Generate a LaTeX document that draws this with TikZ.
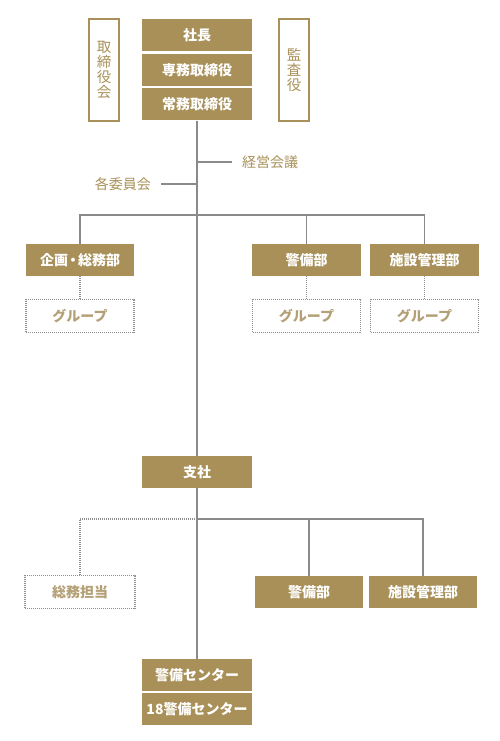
\documentclass[tikz,border=0pt]{standalone}
\usepackage{fontspec}
\setmainfont{Noto Sans CJK JP}
\definecolor{gold}{HTML}{A89058}
\definecolor{goldtxt}{HTML}{A89058}
\definecolor{grouptxt}{HTML}{B3A077}
\definecolor{linegray}{HTML}{8A8A8A}
\definecolor{dotgray}{HTML}{8F8F8F}
\tikzset{
  fillbox/.style={fill=gold, text=white, font=\fontsize{14}{16}\selectfont\bfseries, minimum width=110pt, minimum height=32pt, inner sep=0pt},
  outbox/.style={draw=gold, line width=2pt, text=goldtxt, font=\fontsize{14.5}{15}\selectfont, minimum width=30pt, minimum height=102pt, inner sep=0pt, align=center},
  dotbox/.style={draw=dotgray, line width=1.2pt, dash pattern=on 1pt off 1pt, text=grouptxt, font=\fontsize{14}{16}\selectfont\bfseries, minimum width=108pt, minimum height=33pt, inner sep=0pt},
  conn/.style={draw=linegray, line width=1.4pt},
  dconn/.style={draw=dotgray, line width=1.2pt, dash pattern=on 1pt off 1pt},
  lbl/.style={text=goldtxt, font=\fontsize{14}{16}\selectfont, inner sep=0pt}
}
\begin{document}
\begin{tikzpicture}[x=1pt,y=-1pt]
\useasboundingbox (0,0) rectangle (500,741);
% top stack
\node[fillbox] (shacho) at (197,35) {社長};
\node[fillbox] (senmu) at (197,70) {専務取締役};
\node[fillbox] (joumu) at (197,104.5) {常務取締役};
\node[outbox] (torishimari) at (104,70) {取\\締\\役\\会};
\node[outbox] (kansa) at (294,70) {監\\査\\役};
% side labels
\coordinate (k1) at (197,162);
\coordinate (k2) at (197,184);
\node[lbl, anchor=west] (keiei) at (242,162) {経営会議};
\node[lbl, anchor=east] (iinkai) at (151,184) {各委員会};
% first tier
\node[fillbox, minimum width=108pt] (kikaku) at (80,260) {企画\hspace{-2pt}・\hspace{-2pt}総務部};
\node[fillbox, minimum width=109pt] (keibi) at (306.5,260) {警備部};
\node[fillbox, minimum width=109pt] (shisetsu) at (424.5,260) {施設管理部};
\node[dotbox] (g1) at (80,316) {グループ};
\node[dotbox] (g2) at (306.5,316) {グループ};
\node[dotbox] (g3) at (424.5,316) {グループ};
\coordinate (hub1) at (197,215);
% branch office
\node[fillbox] (shisha) at (197,472) {支社};
\coordinate (hub2) at (197,519);
\node[dotbox, minimum width=110pt] (soumu) at (80,592) {総務担当};
\node[fillbox, minimum width=108pt] (keibi2) at (309,592) {警備部};
\node[fillbox, minimum width=108pt] (shisetsu2) at (423,592) {施設管理部};
\node[fillbox] (center1) at (197,675) {警備センター};
\node[fillbox, minimum height=32.5pt] (center2) at (197,709) {18警備センター};
% connectors
\draw[conn] (joumu.south) -- (shisha.north);
\draw[conn] (k1) -- ([xshift=-10pt]keiei.west);
\draw[conn] ([xshift=10pt]iinkai.east) -- (k2);
\draw[conn] (kikaku.north) |- (hub1) -| (shisetsu.north);
\draw[conn] (keibi.north) -- (keibi.north |- hub1);
\draw[dconn] (kikaku.south) -- (g1.north);
\draw[dconn] (keibi.south) -- (g2.north);
\draw[dconn] (shisetsu.south) -- (g3.north);
\draw[conn] (shisha.south) -- (center1.north);
\draw[dconn] (soumu.north) |- (hub2);
\draw[conn] (hub2) -| (shisetsu2.north);
\draw[conn] (keibi2.north) -- (keibi2.north |- hub2);
\end{tikzpicture}
\end{document}
